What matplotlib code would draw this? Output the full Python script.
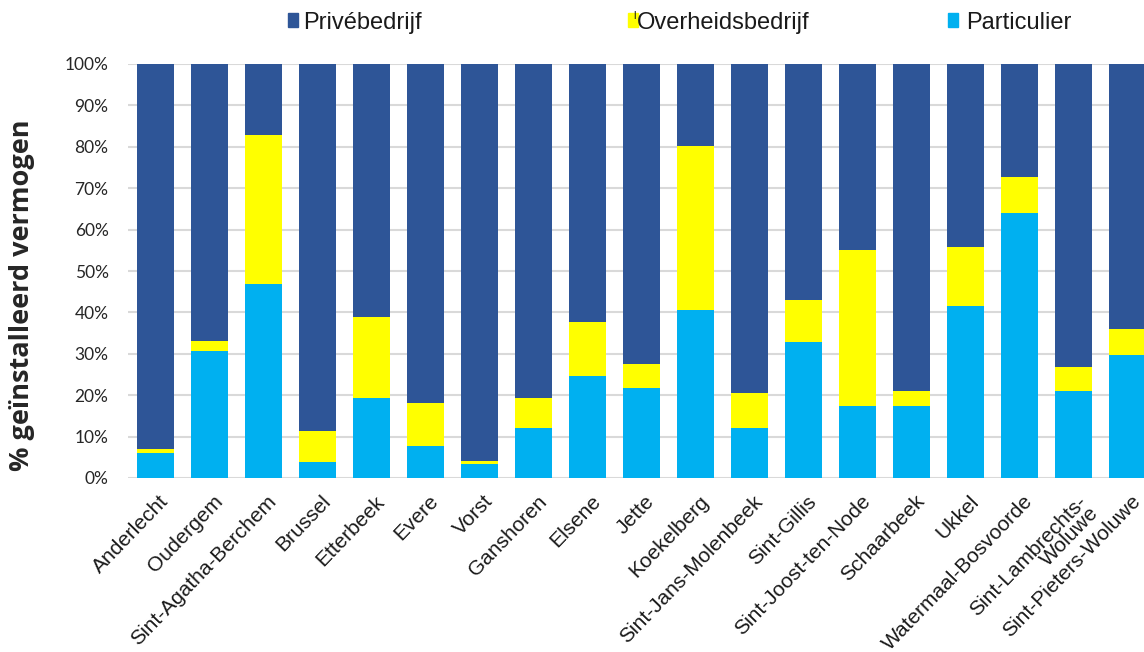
import matplotlib
matplotlib.use("Agg")
import matplotlib.pyplot as plt
from matplotlib.patches import Rectangle
from matplotlib.transforms import ScaledTranslation
import numpy as np

gemeenten = [
    "Anderlecht", "Oudergem", "Sint-Agatha-Berchem", "Brussel", "Etterbeek",
    "Evere", "Vorst", "Ganshoren", "Elsene", "Jette", "Koekelberg",
    "Sint-Jans-Molenbeek", "Sint-Gillis", "Sint-Joost-ten-Node", "Schaarbeek",
    "Ukkel", "Watermaal-Bosvoorde", "Sint-Lambrechts-\nWoluwe", "Sint-Pieters-Woluwe",
]
# shares of installed capacity (%)
particulier = [6.0, 30.6, 46.9, 3.9, 19.4, 7.7, 3.4, 12.1, 24.7, 21.8, 40.7,
               12.1, 32.9, 17.5, 17.5, 41.6, 63.9, 20.9, 29.6]
overheidsbedrijf = [1.0, 2.4, 36.0, 7.4, 19.4, 10.3, 0.6, 7.3, 13.1, 5.8, 39.6,
                    8.4, 10.2, 37.6, 3.4, 14.1, 8.8, 5.8, 6.3]
privebedrijf = [100 - p - o for p, o in zip(particulier, overheidsbedrijf)]

series = ["Privébedrijf", "Overheidsbedrijf", "Particulier"]
colors = {"Privébedrijf": "#2E5597", "Overheidsbedrijf": "#FFFF00",
          "Particulier": "#00B0F0"}
yticks = list(range(0, 101, 10))

W, H = 1144, 652
fig = plt.figure(figsize=(W / 100, H / 100), dpi=100)
ax = fig.add_axes([128 / W, 1 - 478 / H, (W - 128) / W, (478 - 64) / H])

x = np.arange(len(gemeenten))
bw = 0.69
p = np.array(particulier)
o = np.array(overheidsbedrijf)
v = np.array(privebedrijf)
ax.bar(x, p, bw, color=colors["Particulier"], zorder=3)
ax.bar(x, o, bw, bottom=p, color=colors["Overheidsbedrijf"], zorder=3)
ax.bar(x, v, bw, bottom=p + o, color=colors["Privébedrijf"], zorder=3)

ax.set_xlim(-0.504, 18.31)
ax.set_ylim(0, 100)
ax.set_yticks(yticks)
ax.set_yticklabels([f"{t}%" for t in yticks], family="Lato", fontsize=12.5,
                   color="#262626")
ax.yaxis.grid(True, color="#D9D9D9", linewidth=1.5, zorder=0)
ax.set_axisbelow(True)
for s in ax.spines.values():
    s.set_visible(False)
ax.tick_params(axis="y", length=0, pad=14)
ax.tick_params(axis="x", length=0, pad=2)

ax.set_xticks(x)
ax.set_xticklabels(gemeenten, rotation=46, ha="right", va="top",
                   rotation_mode="anchor", family="Liberation Sans",
                   fontsize=15, color="#1a1a1a", linespacing=0.85)
shift = ScaledTranslation(3.5 / 100, -11 / 100, fig.dpi_scale_trans)
for lab in ax.get_xticklabels():
    lab.set_transform(lab.get_transform() + shift)

fig.text(22 / W, 1 - 295 / H, "% geïnstalleerd vermogen", rotation=90,
         ha="center", va="center", family="Open Sans", fontweight="bold",
         fontsize=19.5, color="#262626")

# legend row across the top
leg = [("Privébedrijf", 288, 303), ("Overheidsbedrijf", 628, 637),
       ("Particulier", 948, 966)]
for name, sx, tx in leg:
    fig.patches.append(Rectangle((sx / W, 1 - 27 / H), 10 / W, 14 / H,
                                 transform=fig.transFigure,
                                 color=colors[name]))
    fig.text(tx / W, 1 - 29 / H, name, ha="left", va="baseline",
             family="Liberation Sans", fontsize=17, color="#1a1a1a")
fig.text(633 / W, 1 - 19 / H, "l", ha="left", va="baseline",
         family="Liberation Sans", fontsize=8, color="#1a1a1a")

fig.savefig("out.png", dpi=100)
